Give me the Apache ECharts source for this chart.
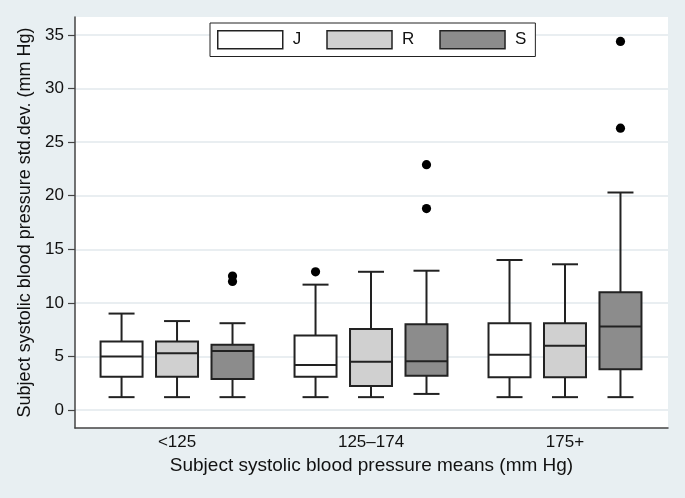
<!DOCTYPE html>
<html>
<head>
<meta charset="utf-8">
<script src="https://cdn.jsdelivr.net/npm/echarts@6/dist/echarts.min.js"></script>
<style>
html,body{margin:0;padding:0;background:#e8eff2;}
#c{width:685px;height:498px;}
</style>
</head>
<body>
<div id="c"></div>
<script>
// Categories and tick labels
const categories = ['<125', '125\u2013174', '175+'];
const yTicks = [0, 5, 10, 15, 20, 25, 30, 35];

// Box statistics per category: [min whisker, Q1, median, Q3, max whisker]
const boxJ = [[1.2, 3.1, 5.0, 6.4, 9.0], [1.2, 3.1, 4.2, 6.95, 11.7], [1.2, 3.05, 5.15, 8.1, 14.0]];
const boxR = [[1.2, 3.1, 5.3, 6.4, 8.3], [1.2, 2.25, 4.5, 7.55, 12.9], [1.2, 3.05, 6.0, 8.1, 13.6]];
const boxS = [[1.2, 2.9, 5.5, 6.1, 8.1], [1.5, 3.2, 4.55, 8.0, 13.0], [1.2, 3.8, 7.8, 11.0, 20.3]];

// Outliers: [category index, value]
const outJ = [[1, 12.9]];
const outR = [];
const outS = [[0, 12.5], [0, 12.0], [1, 22.9], [1, 18.8], [2, 34.4], [2, 26.3]];

const groups = [
  { name: 'J', box: boxJ, out: outJ, fill: '#ffffff' },
  { name: 'R', box: boxR, out: outR, fill: '#d0d0d0' },
  { name: 'S', box: boxS, out: outS, fill: '#8c8c8c' }
];

const OFFSET = 0.286;   // group offset in category units
const BOXW = 0.2165;    // box width in category units
const CAPW = 0.134;     // whisker cap width in category units
const EDGE = '#222222';

function boxRenderer(k, fill) {
  return function (params, api) {
    const cat = api.value(0);
    const off = (k - 1) * OFFSET;
    const x = api.coord([cat + off, 0])[0];
    const w = api.size([BOXW, 0])[0];
    const cw = api.size([CAPW, 0])[0];
    const y = i => api.coord([cat + off, api.value(i)])[1];
    const ymin = y(1), yq1 = y(2), ymed = y(3), yq3 = y(4), ymax = y(5);
    const ls = { stroke: EDGE, lineWidth: 2 };
    return {
      type: 'group',
      children: [
        { type: 'line', shape: { x1: x, y1: ymax, x2: x, y2: yq3 }, style: ls },
        { type: 'line', shape: { x1: x, y1: yq1, x2: x, y2: ymin }, style: ls },
        { type: 'line', shape: { x1: x - cw / 2, y1: ymax, x2: x + cw / 2, y2: ymax }, style: ls },
        { type: 'line', shape: { x1: x - cw / 2, y1: ymin, x2: x + cw / 2, y2: ymin }, style: ls },
        { type: 'rect', shape: { x: x - w / 2, y: yq3, width: w, height: yq1 - yq3 },
          style: { fill: fill, stroke: EDGE, lineWidth: 2 } },
        { type: 'line', shape: { x1: x - w / 2, y1: ymed, x2: x + w / 2, y2: ymed }, style: ls }
      ]
    };
  };
}

function outRenderer(k) {
  return function (params, api) {
    const cat = api.value(0);
    const off = (k - 1) * OFFSET;
    const p = api.coord([cat + off, api.value(1)]);
    return { type: 'circle', shape: { cx: p[0], cy: p[1], r: 4.6 }, style: { fill: '#000' } };
  };
}

const series = [];
groups.forEach((g, k) => {
  series.push({
    name: g.name,
    type: 'custom',
    renderItem: boxRenderer(k, g.fill),
    itemStyle: { color: g.fill, borderColor: EDGE, borderWidth: 1.5 },
    encode: { x: 0, y: [1, 2, 3, 4, 5] },
    data: g.box.map((v, i) => [i].concat(v)),
    z: 3
  });
});
groups.forEach((g, k) => {
  series.push({
    name: g.name + ' outliers',
    type: 'custom',
    renderItem: outRenderer(k),
    encode: { x: 0, y: 1 },
    data: g.out,
    z: 4
  });
});

const chart = echarts.init(document.getElementById('c'), null, { renderer: 'canvas' });
chart.setOption({
  backgroundColor: '#e8eff2',
  animation: false,
  textStyle: { fontFamily: 'Liberation Sans, Arial, sans-serif' },
  grid: { left: 75, right: 17, top: 17, bottom: 70, show: true, backgroundColor: '#ffffff', borderWidth: 0 },
  legend: {
    data: groups.map(g => ({ name: g.name, itemStyle: { color: g.fill, borderColor: EDGE, borderWidth: 1.5 } })),
    icon: 'rect',
    left: 210, top: 23,
    itemWidth: 65, itemHeight: 18, itemGap: 25,
    padding: [7, 9, 7, 7],
    borderColor: '#222', borderWidth: 1, backgroundColor: '#ffffff',
    textStyle: { fontSize: 17, color: '#111', padding: [0, 0, 0, 5], fontFamily: 'Liberation Sans, Arial, sans-serif' },
    selectedMode: false
  },
  xAxis: {
    type: 'value',
    min: -0.526, max: 2.531,
    name: 'Subject systolic blood pressure means (mm Hg)',
    nameLocation: 'middle', nameGap: 26,
    nameTextStyle: { fontSize: 19, color: '#111' },
    axisLine: { show: true, onZero: false, lineStyle: { color: '#444', width: 1.5 } },
    axisTick: { show: false },
    splitLine: { show: false },
    axisLabel: { customValues: [0, 1, 2], formatter: v => categories[Math.round(v)], fontSize: 17, color: '#111', margin: 6 }
  },
  yAxis: {
    type: 'value',
    min: -1.68, max: 36.68,
    name: 'Subject systolic blood pressure std.dev. (mm Hg)',
    nameLocation: 'middle', nameGap: 38,
    nameTextStyle: { fontSize: 18, color: '#111' },
    axisLine: { show: true, onZero: false, lineStyle: { color: '#444', width: 1.5 } },
    axisTick: { show: true, length: 7, customValues: yTicks, lineStyle: { color: '#444', width: 1.2 } },
    splitLine: { show: true, lineStyle: { color: '#e2e9ec', width: 1.5 } },
    axisLabel: { customValues: yTicks, fontSize: 17, color: '#111', margin: 11 }
  },
  series: series
});
</script>
</body>
</html>
